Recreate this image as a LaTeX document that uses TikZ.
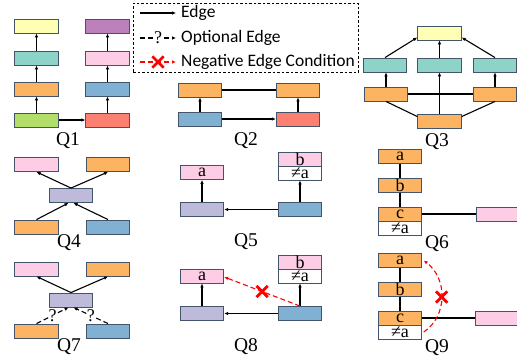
\documentclass[tikz,border=0pt]{standalone}
\usepackage{fontspec}
\setmainfont{Liberation Serif}
\newfontfamily\legendfont{Carlito}
\usetikzlibrary{arrows.meta,shapes.misc,calc}

\definecolor{cYellow}{HTML}{FFFFB3}
\definecolor{cTeal}{HTML}{8DD3C7}
\definecolor{cOrange}{HTML}{FDB462}
\definecolor{cGreen}{HTML}{B3DE69}
\definecolor{cPurple}{HTML}{BC80BD}
\definecolor{cPink}{HTML}{FCCDE5}
\definecolor{cBlue}{HTML}{80B1D3}
\definecolor{cRed}{HTML}{FB8072}
\definecolor{cLav}{HTML}{BEBADA}
\definecolor{edgegray}{HTML}{44546A}
\definecolor{negred}{HTML}{FF0000}

\begin{document}
\begin{tikzpicture}[x=1pt,y=-1pt,
  box/.style={draw=edgegray, line width=0.9pt, minimum width=43.5pt, minimum height=14pt,
              inner sep=0pt, font=\fontsize{18}{18}\selectfont},
  edge/.style={line width=1.1pt, -{Latex[length=4pt,width=3.6pt]}},
  link/.style={line width=1.1pt},
  opt/.style={edge, dash pattern=on 5pt off 3pt},
  neg/.style={draw=negred, line width=1.1pt, dash pattern=on 5pt off 3pt,
              -{Latex[length=4pt,width=3.6pt]}},
  qlabel/.style={font=\fontsize{19.5}{20}\selectfont, inner sep=0pt},
  xmark/.style={cross out, draw=negred, line width=2.8pt, minimum size=8.5pt, inner sep=0pt, solid},
  qmark/.style={fill=white, inner sep=0pt, font=\fontsize{18}{18}\selectfont},
  legtext/.style={anchor=west, inner sep=0pt, font=\legendfont\fontsize{17.5}{18}\selectfont}
]
\useasboundingbox (0,0) rectangle (517,360);

% ---------------- Legend ----------------
\node[draw, line width=0.7pt, dash pattern=on 2.5pt off 2pt, minimum width=225pt,
      minimum height=69pt, inner sep=0pt, anchor=north west] (legend) at (133,3) {};
\coordinate (la1) at (140,13);   \coordinate (lb1) at (176,13);
\coordinate (la2) at (140,38);   \coordinate (lb2) at (176,38);
\coordinate (la3) at (140,62);   \coordinate (lb3) at (176,62);
\draw[edge] (la1) -- (lb1);
\draw[opt] (la2) -- node[qmark] (lq) {?} (lb2);
\draw[neg] (la3) -- node[xmark] (lx) {} (lb3);
\node[legtext] (t1) at (181,13) {Edge};
\node[legtext] (t2) at (181,38) {Optional Edge};
\node[legtext] (t3) at (181,62) {Negative Edge Condition};

% ---------------- Q1 ----------------
\node[box,fill=cYellow] (q1y) at (36.5,26) {};
\node[box,fill=cTeal]   (q1t) at (36.5,58) {};
\node[box,fill=cOrange] (q1o) at (36.5,89) {};
\node[box,fill=cGreen]  (q1g) at (36.5,120) {};
\node[box,fill=cPurple] (q1p) at (107.5,26) {};
\node[box,fill=cPink]   (q1k) at (107.5,58) {};
\node[box,fill=cBlue]   (q1b) at (107.5,89) {};
\node[box,fill=cRed]    (q1r) at (107.5,120) {};
\draw[edge] (q1g) -- (q1o);
\draw[edge] (q1o) -- (q1t);
\draw[edge] (q1t) -- (q1y);
\draw[edge] (q1r) -- (q1b);
\draw[edge] (q1b) -- (q1k);
\draw[edge] (q1k) -- (q1p);
\draw[edge] (q1g) -- (q1r);
\node[qlabel] (l1) at (68,141) {Q1};

% ---------------- Q2 ----------------
\node[box,fill=cOrange] (q2a) at (200,90) {};
\node[box,fill=cBlue]   (q2b) at (200,119) {};
\node[box,fill=cOrange] (q2c) at (298,90) {};
\node[box,fill=cRed]    (q2d) at (298,119) {};
\draw[link] (q2a) -- (q2c);
\draw[edge] (q2b) -- (q2d);
\draw[edge] (q2b) -- (q2a);
\draw[edge] (q2d) -- (q2c);
\node[qlabel] (l2) at (246,141) {Q2};

% ---------------- Q3 ----------------
\node[box,fill=cYellow] (q3y)  at (439.5,33) {};
\node[box,fill=cTeal]   (q3tl) at (385,65) {};
\node[box,fill=cTeal]   (q3tm) at (439.5,65) {};
\node[box,fill=cTeal]   (q3tr) at (495,65) {};
\node[box,fill=cOrange] (q3ol) at (386,94) {};
\node[box,fill=cOrange] (q3or) at (495,94) {};
\node[box,fill=cOrange] (q3b)  at (439.5,121) {};
\draw[edge] (q3tl.north) -- ([yshift=3pt]q3y.south west);
\draw[edge] (q3tr.north) -- ([yshift=3pt]q3y.south east);
\draw[edge] (q3tm) -- (q3y);
\draw[edge] (q3ol) -- (q3ol |- q3tl.south);
\draw[edge] (q3or) -- (q3or |- q3tr.south);
\draw[link] (q3ol) -- (q3or);
\draw[edge] (q3b) -- (q3tm);
\draw[link] ([yshift=-3pt]q3b.north west) -- (q3ol.south);
\draw[link] ([yshift=-3pt]q3b.north east) -- (q3or.south);
\node[qlabel] (l3) at (437,142) {Q3};

% ---------------- Q4 ----------------
\node[box,fill=cPink]   (q4k) at (36.5,164.5) {};
\node[box,fill=cOrange] (q4o) at (108,164.5) {};
\node[box,fill=cLav]    (q4p) at (71,195.5) {};
\node[box,fill=cOrange] (q4a) at (36.5,227) {};
\node[box,fill=cBlue]   (q4b) at (108,227) {};
\draw[edge] (q4p.north) -- (q4k.south);
\draw[edge] (q4p.north) -- (q4o.south);
\draw[edge] (q4a.north) -- ([xshift=-2.5pt]q4p.south);
\draw[edge] (q4b.north) -- ([xshift=2.5pt]q4p.south);
\node[qlabel] (l4) at (69,243) {Q4};

% ---------------- Q5 ----------------
\node[box,fill=cPink]  (q5a)  at (202,172.5) {a};
\node[box,fill=cPink]  (q5bt) at (300,159) {b};
\node[box,fill=white]  (q5bn) at (300,173) {≠a};
\node[box,fill=cLav]   (q5p)  at (202,209.5) {};
\node[box,fill=cBlue]  (q5b)  at (300,209.5) {};
\draw[edge] (q5p) -- (q5a);
\draw[edge] (q5b) -- (q5bn);
\draw[edge] (q5b) -- (q5p);
\node[qlabel] (l5) at (246,242) {Q5};

% ---------------- Q6 ----------------
\node[box,fill=cOrange] (q6a) at (400,156.5) {a};
\node[box,fill=cOrange] (q6b) at (400,185.5) {b};
\node[box,fill=cOrange] (q6c) at (400,214) {c};
\node[box,fill=white]   (q6n) at (400,228) {≠a};
\node[box,fill=cPink]   (q6k) at (498,214) {};
\draw[link] (q6a) -- (q6b);
\draw[link] (q6b) -- (q6c);
\draw[link] (q6c) -- (q6k);
\node[qlabel] (l6) at (437,244) {Q6};

% ---------------- Q7 ----------------
\node[box,fill=cPink]   (q7k) at (36.5,269) {};
\node[box,fill=cOrange] (q7o) at (108,269) {};
\node[box,fill=cLav]    (q7p) at (71,300) {};
\node[box,fill=cOrange] (q7a) at (36.5,331) {};
\node[box,fill=cBlue]   (q7b) at (108,331) {};
\draw[edge] (q7p.north) -- (q7k.south);
\draw[edge] (q7p.north) -- (q7o.south);
\draw[opt] (q7a.north) -- node[qmark] (q7q1) {?} ([xshift=-2.5pt]q7p.south);
\draw[opt] (q7b.north) -- node[qmark] (q7q2) {?} ([xshift=2.5pt]q7p.south);
\node[qlabel] (l7) at (69,347) {Q7};

% ---------------- Q8 ----------------
\node[box,fill=cPink]  (q8a)  at (202,276) {a};
\node[box,fill=cPink]  (q8bt) at (300,262) {b};
\node[box,fill=white]  (q8bn) at (300,276) {≠a};
\node[box,fill=cLav]   (q8p)  at (202,313.5) {};
\node[box,fill=cBlue]  (q8b)  at (300,313.5) {};
\draw[edge] (q8p) -- (q8a);
\draw[edge] (q8b) -- (q8bn);
\draw[edge] (q8b) -- (q8p);
\draw[neg] (q8b.north) -- node[xmark] (q8x) {} ([yshift=-1pt]q8a.east);
\node[qlabel] (l8) at (246,347) {Q8};

% ---------------- Q9 ----------------
\node[box,fill=cOrange] (q9a) at (400,260.5) {a};
\node[box,fill=cOrange] (q9b) at (400,289.5) {b};
\node[box,fill=cOrange] (q9c) at (400,318) {c};
\node[box,fill=white]   (q9n) at (400,332) {≠a};
\node[box,fill=cPink]   (q9k) at (497,318) {};
\draw[link] (q9a) -- (q9b);
\draw[link] (q9b) -- (q9c);
\draw[link] (q9c) -- (q9k);
\draw[neg] ([xshift=1.5pt]q9n.east) .. controls +(24,-16) and +(24,18) .. ([xshift=1.5pt]q9a.east)
      node[pos=0.5, xmark] (q9x) {};
\node[qlabel] (l9) at (437,348) {Q9};
\end{tikzpicture}
\end{document}
